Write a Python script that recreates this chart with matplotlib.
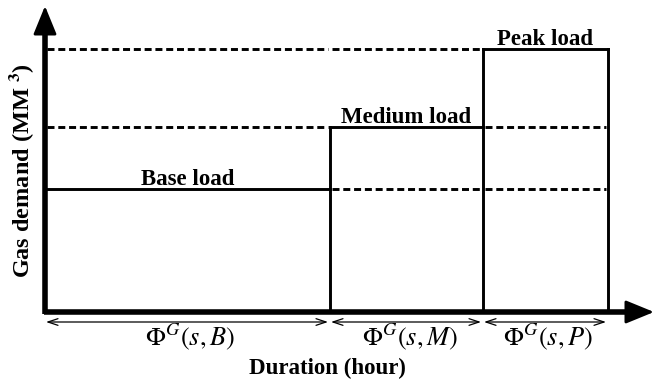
import numpy as np
import matplotlib.pyplot as plt

plt.rcParams['font.family'] = 'Liberation Serif'
plt.rcParams['mathtext.fontset'] = 'stix'

# load blocks: duration and demand level (arbitrary units)
load_names = ['Base load', 'Medium load', 'Peak load']
durations = [285, 153, 125]
demand = [123, 185, 263]
phi_labels = [r'$\Phi^{G}(s,B)$', r'$\Phi^{G}(s,M)$', r'$\Phi^{G}(s,P)$']

edges = np.concatenate([[0], np.cumsum(durations)])
x_max = 610
y_max = 307

fig = plt.figure(figsize=(6.57, 3.87), dpi=100)
ax = fig.add_axes([45 / 657, 75 / 387, 610 / 657, 307 / 387])
ax.set_xlim(0, x_max)
ax.set_ylim(0, y_max)
ax.axis('off')

lw = 2.1
dash = (0, (2.4, 1.3))

# step outline of the load duration blocks
for i in range(len(durations)):
    x0, x1 = edges[i], edges[i + 1]
    ax.plot([x0, x1], [demand[i], demand[i]], color='black', lw=lw, clip_on=False)
    if i > 0:
        ax.plot([x0, x0], [0, demand[i]], color='black', lw=lw)
ax.plot([edges[-1], edges[-1]], [0, demand[-1]], color='black', lw=lw)

# dashed reference levels across the other blocks
for i in range(len(durations)):
    for j in range(len(durations)):
        if j == i:
            continue
        if j < i or demand[i] < demand[j]:
            ax.plot([edges[j] + 2, edges[j + 1] - 2], [demand[i], demand[i]],
                    color='black', lw=lw, ls=dash)

# load labels
for i, name in enumerate(load_names):
    ax.text((edges[i] + edges[i + 1]) / 2, demand[i] + 4, name, ha='center',
            va='baseline', fontsize=16.5, fontweight='bold')

# axes with arrows
head = dict(arrowstyle='-|>,head_width=0.45,head_length=1.1', color='black', lw=2,
            mutation_scale=16, shrinkA=0, shrinkB=0)
ax.plot([0, 0], [-1.5, y_max - 18], color='black', lw=4, solid_capstyle='butt', clip_on=False)
ax.plot([-1.5, x_max - 18], [0, 0], color='black', lw=4, solid_capstyle='butt', clip_on=False)
ax.annotate('', xy=(0, y_max - 1), xytext=(0, y_max - 25), arrowprops=head,
            annotation_clip=False)
ax.annotate('', xy=(x_max - 1, 0), xytext=(x_max - 25, 0), arrowprops=head,
            annotation_clip=False)

# duration spans below the x axis
for i in range(len(durations)):
    ax.annotate('', xy=(edges[i] + 1, -10), xytext=(edges[i + 1] - 2, -10),
                arrowprops=dict(arrowstyle='<->,head_width=0.2,head_length=0.6',
                                color='black', lw=0.9, mutation_scale=12,
                                shrinkA=0, shrinkB=0),
                annotation_clip=False)
    ax.text((edges[i] + edges[i + 1]) / 2 + 3, -25, phi_labels[i], ha='center',
            va='center', fontsize=19)

ax.text(282, -56, 'Duration (hour)', ha='center', va='center', fontsize=16.5,
        fontweight='bold')
ax.text(-23, 141, r'Gas demand (MM $^{\mathbf{3}}$)', ha='center', va='center',
        rotation=90, fontsize=17.5, fontweight='bold')

fig.savefig('out.png', dpi=100)
